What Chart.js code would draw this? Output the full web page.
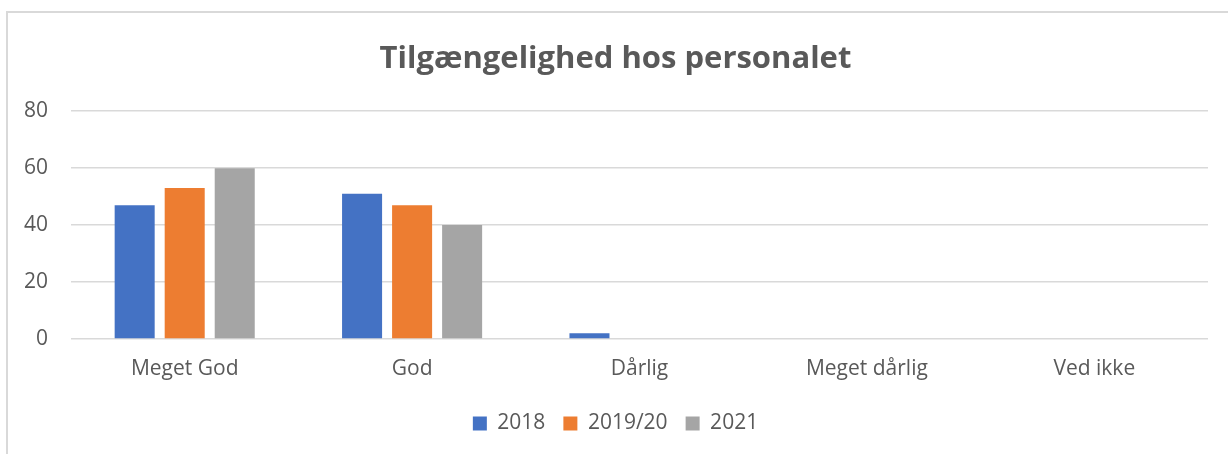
<!DOCTYPE html>
<html>
<head>
<meta charset="utf-8">
<script src="https://cdn.jsdelivr.net/npm/chart.js@4"></script>
<style>
  html, body { margin: 0; padding: 0; background: #fff; overflow: hidden; }
  #frame { position: absolute; left: 6px; top: 11px; width: 1300px; height: 500px; border: 2px solid #d9d9d9; }
  #wrap { position: absolute; left: 0; top: 0; width: 1228px; height: 454px; }
</style>
</head>
<body>
<div id="frame"></div>
<div id="wrap"><canvas id="metricChart"></canvas></div>
<script>
// answers per category
const categories = ['Meget God', 'God', 'Dårlig', 'Meget dårlig', 'Ved ikke'];
const years = ['2018', '2019/20', '2021'];
const values2018 = [47, 51, 2, 0, 0];
const values2019 = [53, 47, 0, 0, 0];
const values2021 = [60, 40, 0, 0, 0];
const yTicks = [0, 20, 40, 60, 80];

const blue = '#4472C4';
const orange = '#ED7D31';
const grey = '#A5A5A5';
const textColor = '#595959';

function renderChart()
{
    const ctx = document.getElementById('metricChart').getContext('2d');
    new Chart(ctx, {
        type: 'bar',
        data: {
            labels: categories,
            datasets: [
                { label: years[0], data: values2018, backgroundColor: blue },
                { label: years[1], data: values2019, backgroundColor: orange },
                { label: years[2], data: values2021, backgroundColor: grey }
            ]
        },
        options: {
            responsive: true,
            maintainAspectRatio: false,
            animation: false,
            datasets: {
                bar: { categoryPercentage: 0.66, barPercentage: 0.8 }
            },
            layout: {
                padding: { top: 0, left: 23, right: 20, bottom: 10 }
            },
            plugins: {
                title: {
                    display: true,
                    text: 'Tilgængelighed hos personalet',
                    color: textColor,
                    font: { family: 'Open Sans', size: 31, weight: 'bold' },
                    padding: { top: 41, bottom: 33 }
                },
                legend: {
                    position: 'bottom',
                    labels: {
                        color: textColor,
                        font: { family: 'Open Sans', size: 21 },
                        boxWidth: 14,
                        boxHeight: 14,
                        padding: 18
                    }
                },
                tooltip: { enabled: false }
            },
            scales: {
                x: {
                    grid: { display: false },
                    border: { display: false },
                    ticks: {
                        color: textColor,
                        font: { family: 'Open Sans', size: 21 },
                        padding: 9
                    },
                    afterFit: function (scale) { scale.height = 56; }
                },
                y: {
                    min: 0,
                    max: 80,
                    afterBuildTicks: function (scale) {
                        scale.ticks = yTicks.map(v => ({ value: v }));
                    },
                    grid: { color: '#d9d9d9', lineWidth: 1.5, drawTicks: false },
                    border: { display: false },
                    ticks: {
                        color: textColor,
                        font: { family: 'Open Sans', size: 21 },
                        padding: 23
                    },
                    afterFit: function (scale) { scale.width = 48; }
                }
            }
        }
    });
}

renderChart();
</script>
</body>
</html>
